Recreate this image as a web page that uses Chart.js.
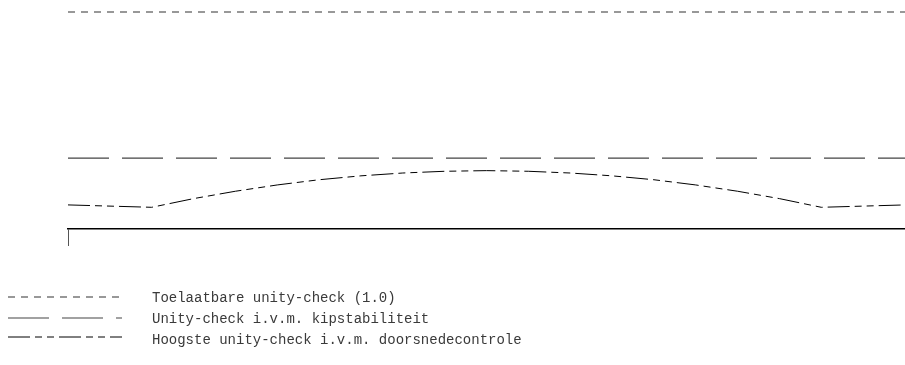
<!DOCTYPE html>
<html>
<head>
<meta charset="utf-8">
<script src="https://cdn.jsdelivr.net/npm/chart.js@4/dist/chart.umd.min.js"></script>
<style>
  html, body { margin: 0; padding: 0; background: #ffffff; }
  #wrap { width: 905px; height: 365px; position: relative; }
</style>
</head>
<body>
<div id="wrap"><canvas id="uc" width="905" height="365"></canvas></div>
<script>
// Position along the beam (m) and the unity-checks found there
const positions = [0, 1, 1.5, 2, 2.5, 3, 3.5, 4, 4.5, 5, 5.5, 6, 6.5, 7, 7.5, 8, 8.5, 9, 10];
const sectionCheck = [0.111, 0.100, 0.140, 0.174, 0.203, 0.227, 0.245, 0.258, 0.266, 0.269,
                      0.266, 0.258, 0.245, 0.227, 0.203, 0.174, 0.140, 0.100, 0.111];
const spanEnds = [0, 10];
const allowedCheck = [1.0, 1.0];
const stabilityCheck = [0.327, 0.327];
const labels = [
  'Toelaatbare unity-check (1.0)',
  'Unity-check i.v.m. kipstabiliteit',
  'Hoogste unity-check i.v.m. doorsnedecontrole'
];

const pts = (xs, ys) => xs.map((x, i) => ({ x: x, y: ys[i] }));

// Legend underneath the plot: a line sample followed by the series name
const lineLegend = {
  id: 'lineLegend',
  afterDraw(chart) {
    const ctx = chart.ctx;
    const rows = [297, 318, 337];
    const textRows = [298, 319, 340];
    ctx.save();
    chart.data.datasets.forEach((ds, i) => {
      ctx.beginPath();
      ctx.setLineDash(ds.borderDash || []);
      ctx.lineDashOffset = 0;
      ctx.strokeStyle = ds.borderColor;
      ctx.lineWidth = ds.borderWidth;
      ctx.moveTo(8, rows[i]);
      ctx.lineTo(122, rows[i]);
      ctx.stroke();
      ctx.setLineDash([]);
      ctx.fillStyle = '#3a3a3a';
      ctx.font = '14px "Liberation Mono", "Courier New", monospace';
      ctx.textBaseline = 'middle';
      ctx.fillText(ds.label, 152, textRows[i]);
    });
    ctx.restore();
  }
};

new Chart(document.getElementById('uc'), {
  type: 'line',
  data: {
    datasets: [
      {
        label: labels[0],
        data: pts(spanEnds, allowedCheck),
        borderColor: '#333333',
        borderWidth: 1.2,
        borderDash: [7, 6],
        pointRadius: 0,
        clip: false
      },
      {
        label: labels[1],
        data: pts(spanEnds, stabilityCheck),
        borderColor: '#444444',
        borderWidth: 1.2,
        borderDash: [41, 13],
        pointRadius: 0,
        clip: false
      },
      {
        label: labels[2],
        data: pts(positions, sectionCheck),
        borderColor: '#000000',
        borderWidth: 1,
        borderDash: [22, 5, 7, 5, 7, 5],
        pointRadius: 0,
        tension: 0,
        clip: false
      }
    ]
  },
  options: {
    responsive: false,
    animation: false,
    events: [],
    layout: { padding: { left: 68, top: 12, right: 0, bottom: 119 } },
    plugins: { legend: { display: false }, tooltip: { enabled: false } },
    scales: {
      x: {
        type: 'linear',
        min: 0,
        max: 10,
        grid: {
          display: true,
          drawOnChartArea: false,
          drawTicks: true,
          tickLength: 17,
          color: (c) => (c.index === 0 ? '#555555' : 'rgba(0,0,0,0)')
        },
        border: { display: true, color: '#000000', width: 1.6 },
        ticks: { display: false, stepSize: 1 }
      },
      y: {
        display: false,
        min: 0,
        max: 1
      }
    }
  },
  plugins: [lineLegend]
});
</script>
</body>
</html>
